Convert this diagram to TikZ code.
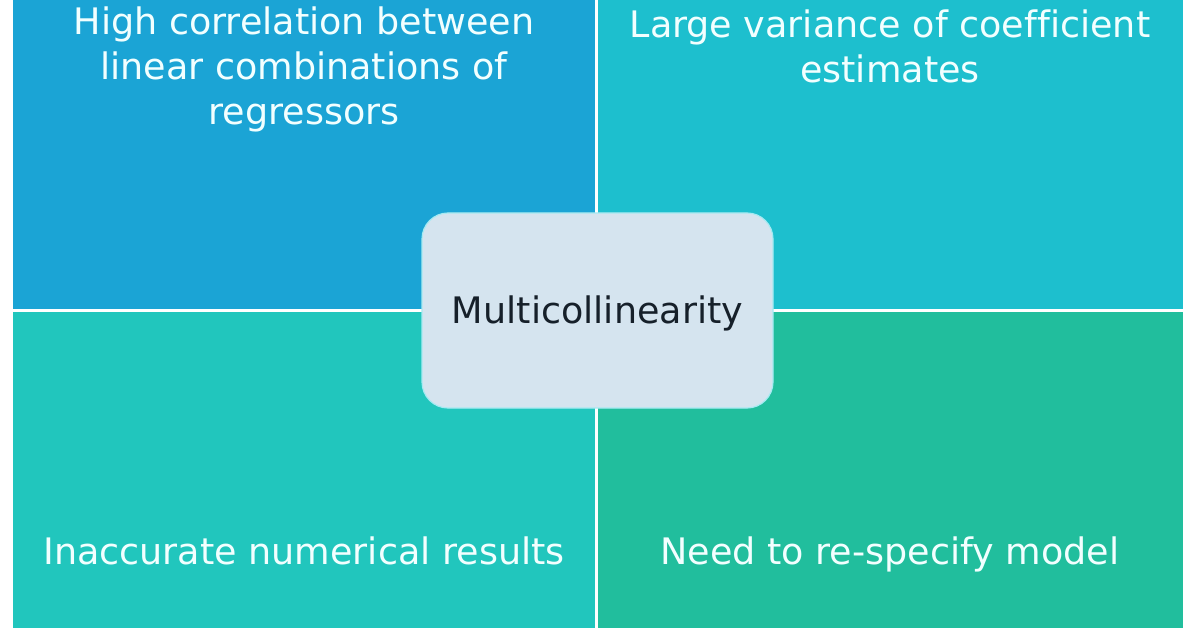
\documentclass[tikz,border=0pt]{standalone}
\usepackage{fontspec}
\setmainfont[Ligatures=NoCommon]{DejaVu Sans}
\usepackage{tikz}
\usetikzlibrary{positioning, calc}

\definecolor{quadblue}{HTML}{1BA4D5}
\definecolor{quadcyan}{HTML}{1DBFCE}
\definecolor{quadteal}{HTML}{21C6BD}
\definecolor{quadgreen}{HTML}{21BE9D}
\definecolor{hubfill}{HTML}{D5E4EF}
\definecolor{hubline}{HTML}{A6EAF2}
\definecolor{hubtext}{HTML}{16202A}
\definecolor{quadtext}{HTML}{F2FFFF}

\tikzset{
  quad/.style={draw=none, inner sep=0pt, minimum height=318pt},
  quadlabel/.style={text=quadtext, align=center, font=\fontsize{36.5}{45}\selectfont},
  hub/.style={fill=hubfill, draw=hubline, line width=1.2pt, rounded corners=26pt,
    minimum width=351pt, minimum height=195pt, text=hubtext, text height=26pt, text depth=0pt,
    font=\fontsize{36.5}{40}\selectfont}
}

\begin{document}
\begin{tikzpicture}[x=1pt, y=-1pt]
  \useasboundingbox[fill=white] (0,0) rectangle (1196,628);
  \begin{scope}
  \clip (0,0) rectangle (1196,628);
  \node[quad, fill=quadblue, anchor=south west, minimum width=582pt] (tl) at (13,309) {};
  \node[quad, fill=quadcyan, anchor=south west, minimum width=585pt] (tr) at (598,309) {};
  \node[quad, fill=quadteal, anchor=north west, minimum width=582pt] (bl) at (13,312) {};
  \node[quad, fill=quadgreen, anchor=north west, minimum width=585pt] (br) at (598,312) {};
  \node[quadlabel] (tltext) at (304,69) {High correlation between\\linear combinations of\\regressors};
  \node[quadlabel] (trtext) at (890,46) {Large variance of coefficient\\estimates};
  \node[quadlabel, anchor=base] (bltext) at (304,564) {Inaccurate numerical results};
  \node[quadlabel, anchor=base] (brtext) at (890,564) {Need to re-specify model};
  \end{scope}
  \node[hub] (hub) at (597.5,310.5) {Multicollinearity};
\end{tikzpicture}
\end{document}
